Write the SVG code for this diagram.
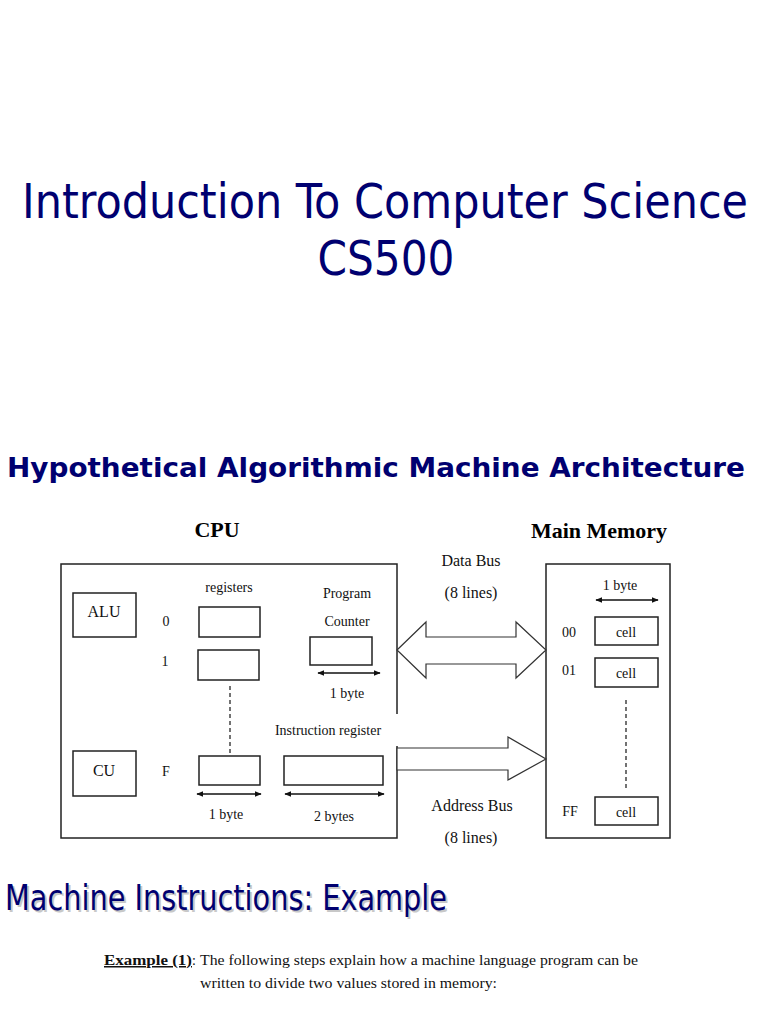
<svg xmlns="http://www.w3.org/2000/svg" width="768" height="1024" viewBox="0 0 768 1024">
<style>
.ttl{font-family:"DejaVu Sans Condensed","DejaVu Sans",sans-serif;fill:#000070}
.t{font-family:"Liberation Serif","Times New Roman",serif;fill:#111;font-size:14px}
.t16{font-family:"Liberation Serif","Times New Roman",serif;fill:#111;font-size:16px}
.box{fill:#fff;stroke:#222;stroke-width:1.5}
.ln{stroke:#111;stroke-width:1.5;fill:none}
.dash{stroke:#444;stroke-width:1.5;stroke-dasharray:4,3;fill:none}
.bus{fill:#fff;stroke:#333;stroke-width:1.2}
</style>
<defs>
<marker id="ah" viewBox="0 0 10 10" refX="9" refY="5" markerWidth="7" markerHeight="7" orient="auto-start-reverse" markerUnits="userSpaceOnUse">
<path d="M0,1 L10,5 L0,9 z" fill="#111"/>
</marker>
</defs>
<rect width="768" height="1024" fill="#fff"/>

<text class="ttl" x="385" y="218" font-size="48" text-anchor="middle" textLength="726" lengthAdjust="spacingAndGlyphs">Introduction To Computer Science</text>
<text class="ttl" x="386" y="275" font-size="48" text-anchor="middle" textLength="137" lengthAdjust="spacingAndGlyphs">CS500</text>
<text class="ttl" x="376" y="477" font-size="27" font-weight="bold" text-anchor="middle" textLength="738" lengthAdjust="spacingAndGlyphs" style="font-family:'DejaVu Sans',sans-serif">Hypothetical Algorithmic Machine Architecture</text>

<text x="217" y="537" font-family="Liberation Serif,serif" font-weight="bold" font-size="22" text-anchor="middle" fill="#000">CPU</text>
<text x="599" y="538" font-family="Liberation Serif,serif" font-weight="bold" font-size="22" text-anchor="middle" fill="#000">Main Memory</text>

<g id="cpu">
<rect class="box" x="61" y="564" width="336" height="274"/>
<rect x="392" y="714" width="12" height="32" fill="#fff"/>
</g>
<g id="alu"><rect class="box" x="73" y="593" width="63" height="44"/><text class="t16" x="104" y="617" text-anchor="middle">ALU</text></g>
<g id="cu"><rect class="box" x="73" y="751" width="63" height="45"/><text class="t16" x="104" y="776" text-anchor="middle">CU</text></g>

<g id="registers">
<text class="t" x="229" y="592" text-anchor="middle">registers</text>
<text class="t" x="166" y="626" text-anchor="middle">0</text>
<rect class="box" x="199" y="607" width="61" height="30"/>
<text class="t" x="165" y="666" text-anchor="middle">1</text>
<rect class="box" x="198" y="650" width="61" height="30"/>
<text class="t" x="166" y="776" text-anchor="middle">F</text>
<rect class="box" x="199" y="756" width="61" height="29"/>
<text class="t" x="226" y="819" text-anchor="middle">1 byte</text>
</g>

<g id="program-counter">
<text class="t" x="347" y="598" text-anchor="middle">Program</text>
<text class="t" x="347" y="626" text-anchor="middle">Counter</text>
<rect class="box" x="310" y="637" width="62" height="28"/>
<text class="t" x="347" y="698" text-anchor="middle">1 byte</text>
</g>

<g id="instruction-register">
<text class="t" x="328" y="735" text-anchor="middle">Instruction register</text>
<rect class="box" x="284" y="756" width="99" height="29"/>
<text class="t" x="334" y="821" text-anchor="middle">2 bytes</text>
</g>

<g id="memory">
<rect class="box" x="546" y="564" width="124" height="274"/>
<text class="t" x="620" y="590" text-anchor="middle">1 byte</text>
<text class="t" x="569" y="637" text-anchor="middle">00</text>
<rect class="box" x="595" y="617" width="63" height="28"/>
<text class="t" x="626" y="637" text-anchor="middle">cell</text>
<text class="t" x="569" y="675" text-anchor="middle">01</text>
<rect class="box" x="595" y="658" width="63" height="29"/>
<text class="t" x="626" y="678" text-anchor="middle">cell</text>
<text class="t" x="570" y="816" text-anchor="middle">FF</text>
<rect class="box" x="595" y="797" width="63" height="28"/>
<text class="t" x="626" y="817" text-anchor="middle">cell</text>
</g>

<g id="connectors">
<line class="ln" x1="318" y1="673" x2="380" y2="673" marker-start="url(#ah)" marker-end="url(#ah)"/>
<line class="ln" x1="197" y1="794" x2="261" y2="794" marker-start="url(#ah)" marker-end="url(#ah)"/>
<line class="ln" x1="285" y1="794" x2="384" y2="794" marker-start="url(#ah)" marker-end="url(#ah)"/>
<line class="ln" x1="596" y1="600" x2="658" y2="600" marker-start="url(#ah)" marker-end="url(#ah)"/>
<line class="dash" x1="230" y1="686" x2="230" y2="754"/>
<line class="dash" x1="626" y1="700" x2="626" y2="790"/>
<polygon class="bus" points="397,650 426,622 426,637 516,637 516,622 546,650 516,678 516,664 426,664 426,678"/>
<polygon class="bus" points="397,748 508,748 508,737 546,759 508,780 508,770 397,770"/>
<text class="t16" x="471" y="566" text-anchor="middle">Data Bus</text>
<text class="t16" x="471" y="598" text-anchor="middle">(8 lines)</text>
<text class="t16" x="472" y="811" text-anchor="middle">Address Bus</text>
<text class="t16" x="471" y="843" text-anchor="middle">(8 lines)</text>
</g>

<text class="ttl" x="7" y="912" font-size="36" textLength="442" lengthAdjust="spacingAndGlyphs" style="fill:#c8c8c8">Machine Instructions: Example</text>
<text class="ttl" x="5" y="910" font-size="36" textLength="442" lengthAdjust="spacingAndGlyphs">Machine Instructions: Example</text>

<g id="example-text">
<text class="t" x="104" y="965" font-weight="bold" text-decoration="underline" textLength="88" lengthAdjust="spacingAndGlyphs" style="font-size:15px">Example (1)</text>
<text class="t" x="192" y="965">:</text>
<text class="t" x="200" y="965" textLength="438" lengthAdjust="spacingAndGlyphs">The following steps explain how a machine language program can be</text>
<text class="t" x="200" y="988" textLength="297" lengthAdjust="spacingAndGlyphs">written to divide two values stored in memory:</text>
</g>
</svg>
